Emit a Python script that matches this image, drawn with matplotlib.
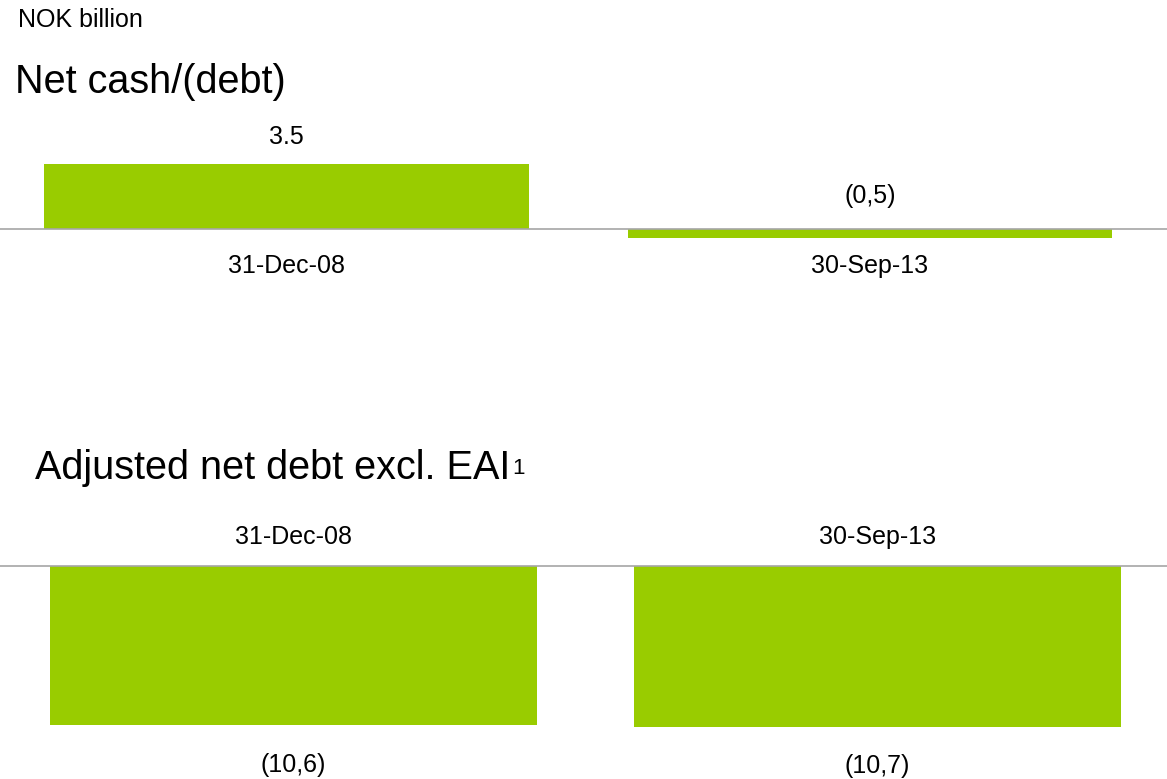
import numpy as np
import matplotlib.pyplot as plt

plt.rcParams['font.family'] = ['Liberation Sans', 'DejaVu Sans']

dates = ['31-Dec-08', '30-Sep-13']
net_cash = [3.5, -0.5]
net_cash_labels = ['3.5', '(0,5)']
adj_debt = [-10.6, -10.7]
adj_debt_labels = ['(10,6)', '(10,7)']

W, H = 1167, 779
green = '#99cc00'
grey = '#a6a6a6'
fs = 18

fig = plt.figure(figsize=(W / 100, H / 100), dpi=100)


def px_axes(top, bottom):
    # axes spanning the full width, top/bottom given in pixels from the top
    return fig.add_axes([0, 1 - bottom / H, 1, (bottom - top) / H])


fig.text(18 / W, 1 - 27 / H, 'NOK billion', fontsize=fs, va='baseline', ha='left')
fig.text(15 / W, 1 - 93 / H, 'Net cash/(debt)', fontsize=28.5, va='baseline', ha='left')
t2 = fig.text(35 / W, 1 - 479 / H, 'Adjusted net debt excl. EAI',
              fontsize=28.5, va='baseline', ha='left')
fig.canvas.draw()
bb = t2.get_window_extent()
fig.text((bb.x1 + 2) / W, 1 - 474 / H, '1', fontsize=16, va='baseline', ha='left')

# top panel: net cash/(debt)
ax1 = px_axes(130, 300)
x = np.arange(len(dates))
ax1.bar(x, net_cash, width=0.831, color=green)
ax1.axhline(0, color=grey, lw=1.2)
ax1.set_xlim(-0.491, 1.509)
ax1.set_ylim(-71 / 18.57, 99 / 18.57)
ax1.axis('off')
for i, v in enumerate(net_cash):
    if v >= 0:
        ax1.annotate(net_cash_labels[i], (x[i], v), xytext=(0, 20),
                     textcoords='offset pixels', ha='center', va='baseline', fontsize=fs)
    else:
        ax1.annotate(net_cash_labels[i], (x[i], 0), xytext=(0, 26),
                     textcoords='offset pixels', ha='center', va='baseline', fontsize=fs)
    ax1.annotate(dates[i], (x[i], 0), xytext=(0, -44),
                 textcoords='offset pixels', ha='center', va='baseline', fontsize=fs)

# bottom panel: adjusted net debt
ax2 = px_axes(500, 779)
ax2.bar(x, adj_debt, width=0.834, color=green)
ax2.axhline(0, color=grey, lw=1.2)
ax2.set_xlim(-0.5026, 1.4957)
ax2.set_ylim(-213 / 15.0, 66 / 15.0)
ax2.axis('off')
for i, v in enumerate(adj_debt):
    ax2.annotate(dates[i], (x[i], 0), xytext=(0, 22),
                 textcoords='offset pixels', ha='center', va='baseline', fontsize=fs)
    ax2.annotate(adj_debt_labels[i], (x[i], v), xytext=(0, -47),
                 textcoords='offset pixels', ha='center', va='baseline', fontsize=fs)

fig.savefig('out.png', dpi=100)
